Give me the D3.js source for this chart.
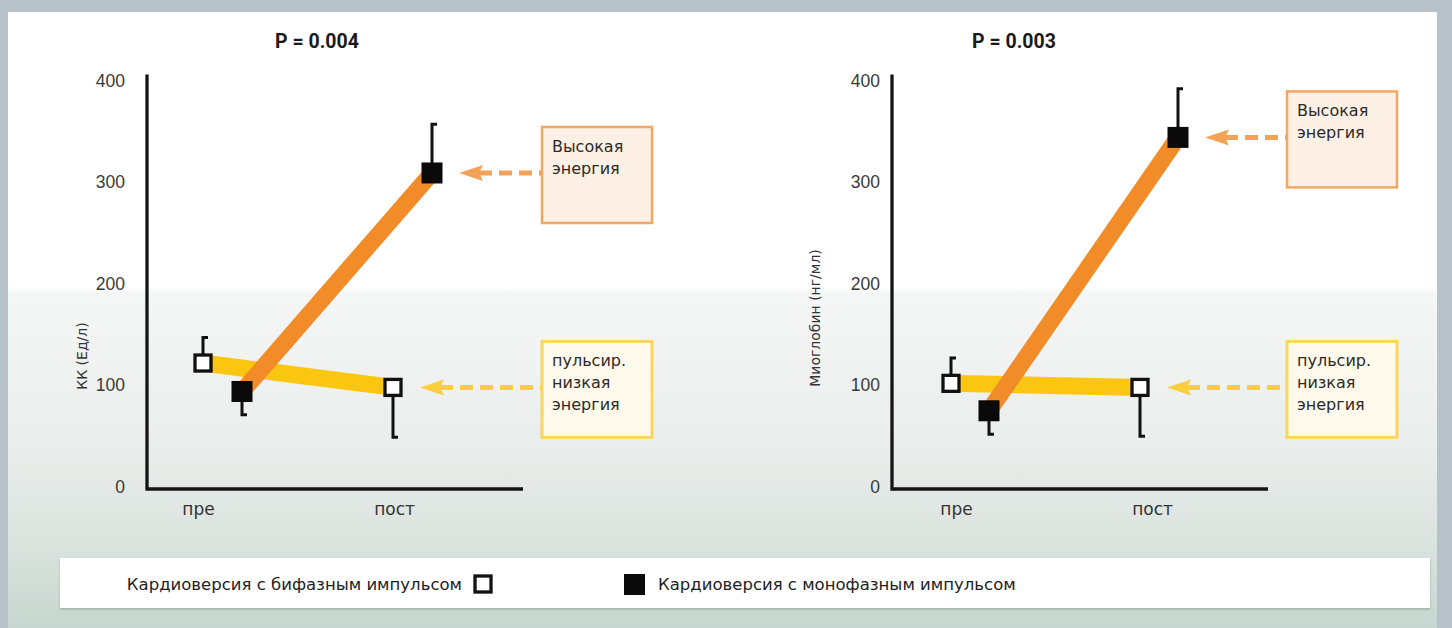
<!DOCTYPE html>
<html>
<head>
<meta charset="utf-8">
<script src="https://cdn.jsdelivr.net/npm/d3@7"></script>
<style>
  html, body { margin: 0; padding: 0; background: #b7c1c9; }
  svg { display: block; }
  text { font-family: "DejaVu Sans", "Noto Sans", sans-serif; }
</style>
</head>
<body>
<svg id="chart" width="1452" height="628"></svg>
<script>
// ---- data ----
const categories = ["пре", "пост"];
const yTickValues = [0, 100, 200, 300, 400];

// КК (Ед/л)
const ckBiphasic = [122, 98];
const ckBiphasicErr = [147, 49];
const ckMonophasic = [94, 309];
const ckMonophasicErr = [71, 357];

// Миоглобин (нг/мл)
const myoBiphasic = [102, 98];
const myoBiphasicErr = [127, 50];
const myoMonophasic = [75, 344];
const myoMonophasicErr = [52, 392];

const pValues = ["P = 0.004", "P = 0.003"];
const yTitles = ["КК (Ед/л)", "Миоглобин (нг/мл)"];
const calloutHigh = ["Высокая", "энергия"];
const calloutLow = ["пульсир.", "низкая", "энергия"];
const legendBiphasic = "Кардиоверсия с бифазным импульсом";
const legendMonophasic = "Кардиоверсия с монофазным импульсом";

// ---- colours ----
const ORANGE = "#f28c28";
const YELLOW = "#fbc612";
const ORANGE_ARROW = "#f3a358";
const YELLOW_ARROW = "#fcce3c";

const svg = d3.select("#chart");
const W = 1452, H = 628;

// background panel with soft vertical gradient
const defs = svg.append("defs");
const grad = defs.append("linearGradient")
  .attr("id", "panelGrad").attr("gradientUnits", "userSpaceOnUse")
  .attr("x1", 0).attr("y1", 12).attr("x2", 0).attr("y2", H);
[[0, "#ffffff"], [0.445, "#ffffff"], [0.456, "#f5f7f6"], [0.71, "#e9edeb"],
 [0.86, "#dbe3df"], [1, "#c7d6d0"]].forEach(([o, c]) =>
  grad.append("stop").attr("offset", o).attr("stop-color", c));

const shadow = defs.append("filter").attr("id", "legendShadow")
  .attr("x", "-2%").attr("y", "-20%").attr("width", "104%").attr("height", "150%");
shadow.append("feDropShadow").attr("dx", 0).attr("dy", 1.5).attr("stdDeviation", 1.2)
  .attr("flood-color", "#7f8f8a").attr("flood-opacity", 0.55);

svg.append("rect").attr("width", W).attr("height", H).attr("fill", "#b7c1c9");
svg.append("rect").attr("x", 8).attr("y", 12).attr("width", 1429).attr("height", H - 12)
  .attr("fill", "url(#panelGrad)");

// shared value scale
const y = d3.scaleLinear().domain([0, 400]).range([487, 80.5]);

const panels = [
  {
    x0: 147, tickPad: 22, labelRange: [198, 394], markRange: [203, 393], monoShift: 39,
    titleX: 317, yTitleX: 82, yTitleY: 356,
    bi: ckBiphasic, biErr: ckBiphasicErr, mono: ckMonophasic, monoErr: ckMonophasicErr,
    p: pValues[0], yTitle: yTitles[0]
  },
  {
    x0: 892, tickPad: 12, labelRange: [956, 1152], markRange: [951, 1140], monoShift: 38,
    titleX: 1014, yTitleX: 815, yTitleY: 318,
    bi: myoBiphasic, biErr: myoBiphasicErr, mono: myoMonophasic, monoErr: myoMonophasicErr,
    p: pValues[1], yTitle: yTitles[1]
  }
];

const axisLen = 376;

panels.forEach(p => {
  const g = svg.append("g");
  const xLabel = d3.scalePoint().domain(categories).range(p.labelRange);
  const xMark = d3.scalePoint().domain(categories).range(p.markRange);

  // title
  g.append("text").attr("x", p.titleX).attr("y", 48)
    .attr("text-anchor", "middle")
    .style("font-family", "Roboto, 'Liberation Sans', sans-serif")
    .style("font-weight", 700).style("font-size", "19.5px").attr("fill", "#1a1a1a")
    .text(p.p);

  // y tick labels
  const yAxis = d3.axisLeft(y).tickValues(yTickValues).tickSize(0).tickPadding(p.tickPad)
    .tickFormat(d3.format("d"));
  const ya = g.append("g").attr("transform", `translate(${p.x0},0)`).call(yAxis);
  ya.select(".domain").remove();
  ya.selectAll("text")
    .style("font-family", "'Liberation Sans', Arial, sans-serif")
    .style("font-size", "17.5px").attr("fill", "#3a3a3a");

  // x tick labels
  const xAxis = d3.axisBottom(xLabel).tickSize(0).tickPadding(16);
  const xa = g.append("g").attr("transform", `translate(0,${y(0)})`).call(xAxis);
  xa.select(".domain").remove();
  xa.selectAll("text").style("font-family", "'DejaVu Sans', sans-serif")
    .style("font-size", "17px").attr("fill", "#333");

  // y title
  g.append("text")
    .attr("transform", `translate(${p.yTitleX},${p.yTitleY}) rotate(-90)`)
    .attr("text-anchor", "middle").attr("dy", "0.35em")
    .style("font-size", "14px").attr("fill", "#333").text(p.yTitle);

  // axis lines
  const axisBottom = y(0) + 2;
  g.append("path")
    .attr("d", `M${p.x0},${y(400) - 6}V${axisBottom}H${p.x0 + axisLen}`)
    .attr("fill", "none").attr("stroke", "#151515").attr("stroke-width", 3.3);

  // connecting bands
  const line = d3.line().x(d => d[0]).y(d => y(d[1]));
  const biPts = categories.map((c, i) => [xMark(c), p.bi[i]]);
  const monoPts = categories.map((c, i) => [xMark(c) + p.monoShift, p.mono[i]]);
  g.append("path").attr("d", line(biPts)).attr("fill", "none")
    .attr("stroke", YELLOW).attr("stroke-width", 17);
  g.append("path").attr("d", line(monoPts)).attr("fill", "none")
    .attr("stroke", ORANGE).attr("stroke-width", 17);

  // callouts
  const callouts = [
    { lines: calloutHigh, tipX: monoPts[1][0] + 27, val: p.mono[1],
      fill: "#fdf1e5", stroke: "#f2a864", arrow: ORANGE_ARROW, sw: 2.5 },
    { lines: calloutLow, tipX: biPts[1][0] + 27, val: p.bi[1],
      fill: "#fffaeb", stroke: "#fcd65c", arrow: YELLOW_ARROW, sw: 3 }
  ];
  callouts.forEach(c => {
    const cy = y(c.val);
    const bx = p.x0 + 395, by = cy - 46, bw = 110, bh = 96;
    g.append("line").attr("x1", c.tipX + 20).attr("x2", bx).attr("y1", cy).attr("y2", cy)
      .attr("stroke", c.arrow).attr("stroke-width", 5).attr("stroke-dasharray", "13,7");
    g.append("path")
      .attr("d", `M${c.tipX},${cy}L${c.tipX + 24},${cy - 8}L${c.tipX + 20},${cy}L${c.tipX + 24},${cy + 8}Z`)
      .attr("fill", c.arrow);
    g.append("rect").attr("x", bx).attr("y", by).attr("width", bw).attr("height", bh)
      .attr("fill", c.fill).attr("stroke", c.stroke).attr("stroke-width", c.sw);
    const t = g.append("text").attr("x", bx + 10).attr("y", by + 25)
      .style("font-size", "16px").attr("fill", "#2a2a2a");
    c.lines.forEach((ln, i) => t.append("tspan").attr("x", bx + 10)
      .attr("dy", i === 0 ? 0 : 21.7).text(ln));
  });

  // error bars
  const errs = [
    ...categories.map((c, i) => ({ x: xMark(c), v: p.bi[i], e: p.biErr[i] })),
    ...categories.map((c, i) => ({ x: xMark(c) + p.monoShift, v: p.mono[i], e: p.monoErr[i] }))
  ];
  errs.forEach(d => {
    g.append("path")
      .attr("d", `M${d.x},${y(d.v)}V${y(d.e)}h5`)
      .attr("fill", "none").attr("stroke", "#111").attr("stroke-width", 3);
  });

  // markers
  g.selectAll(".mono").data(monoPts).join("rect")
    .attr("x", d => d[0] - 10.5).attr("y", d => y(d[1]) - 10.5)
    .attr("width", 21).attr("height", 21).attr("fill", "#0a0a0a");
  g.selectAll(".bi").data(biPts).join("rect")
    .attr("x", d => d[0] - 8).attr("y", d => y(d[1]) - 8)
    .attr("width", 16).attr("height", 16).attr("fill", "#fff")
    .attr("stroke", "#111").attr("stroke-width", 3.3);
});

// legend
const lg = svg.append("g");
lg.append("rect").attr("x", 60).attr("y", 558).attr("width", 1370).attr("height", 50)
  .attr("fill", "#ffffff").attr("filter", "url(#legendShadow)");
lg.append("text").attr("x", 462).attr("y", 590).attr("text-anchor", "end")
  .style("font-size", "16.5px").attr("fill", "#222").text(legendBiphasic);
lg.append("rect").attr("x", 475).attr("y", 576).attr("width", 16).attr("height", 16)
  .attr("fill", "#fff").attr("stroke", "#111").attr("stroke-width", 3.3);
lg.append("rect").attr("x", 624).attr("y", 574).attr("width", 21).attr("height", 21)
  .attr("fill", "#0a0a0a");
lg.append("text").attr("x", 658).attr("y", 590)
  .style("font-size", "16.5px").attr("fill", "#222").text(legendMonophasic);
</script>
</body>
</html>
